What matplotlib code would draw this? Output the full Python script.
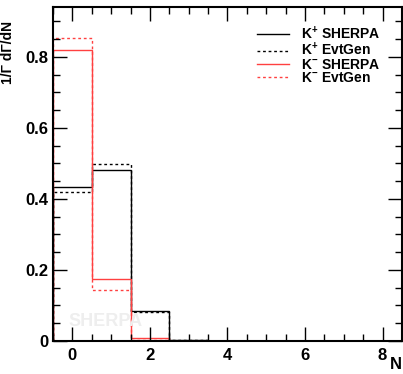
import numpy as np
import matplotlib
matplotlib.use("Agg")
import matplotlib.pyplot as plt
from matplotlib.ticker import MultipleLocator

plt.rcParams['font.family'] = ['Liberation Sans', 'DejaVu Sans']
plt.rcParams['font.weight'] = 'bold'
plt.rcParams['mathtext.fontset'] = 'custom'
plt.rcParams['mathtext.rm'] = 'Liberation Sans:bold'
plt.rcParams['mathtext.bf'] = 'Liberation Sans:bold'
plt.rcParams['mathtext.default'] = 'bf'

edges = np.arange(-0.5, 9.0, 1.0)
kp_sherpa = [0.433, 0.482, 0.0845, 0.003, 0.0, 0.0, 0.0, 0.0, 0.0]
kp_evtgen = [0.420, 0.497, 0.081, 0.002, 0.0, 0.0, 0.0, 0.0, 0.0]
km_sherpa = [0.820, 0.174, 0.009, 0.0, 0.0, 0.0, 0.0, 0.0, 0.0]
km_evtgen = [0.852, 0.144, 0.004, 0.0, 0.0, 0.0, 0.0, 0.0, 0.0]

fig = plt.figure(figsize=(4.03, 3.74), dpi=100)
ax = fig.add_axes([0.1315, 0.0882, 0.866, 0.893])

red = "#ff4040"
ax.stairs(kp_sherpa, edges, color="black", lw=1.0, label=r"K$^{+}$ SHERPA")
ax.stairs(kp_evtgen, edges, color="black", lw=1.0, ls=(0, (2, 2)), label=r"K$^{+}$ EvtGen")
ax.stairs(km_sherpa, edges, color=red, lw=1.0, label=r"K$^{-}$ SHERPA")
ax.stairs(km_evtgen, edges, color=red, lw=1.0, ls=(0, (2, 2)), label=r"K$^{-}$ EvtGen")

# faint generator watermark
ax.text(0.85, 0.054, "SHERPA", color="#eeeeee", fontsize=13, fontweight="bold",
        ha="center", va="center")

ax.set_xlim(-0.5, 8.5)
ax.set_ylim(0, 0.94)
ax.xaxis.set_major_locator(MultipleLocator(2))
ax.xaxis.set_minor_locator(MultipleLocator(0.5))
ax.yaxis.set_minor_locator(MultipleLocator(0.05))
ax.set_yticks([0, 0.2, 0.4, 0.6, 0.8])
ax.set_yticklabels(["0", "0.2", "0.4", "0.6", "0.8"])
ax.tick_params(which="both", direction="in", top=True, right=True, labelsize=12, width=1)
ax.tick_params(which="major", length=10)
ax.tick_params(which="minor", length=5)
ax.tick_params(axis="x", pad=5)
for s in ax.spines.values():
    s.set_linewidth(1.5)

ax.set_ylabel("1/Γ dΓ/dN", fontsize=10, fontweight="bold")
ax.yaxis.set_label_coords(-0.11, 0.865)
fig.text(0.997, 0.005, "N", fontsize=12, fontweight="bold", ha="right", va="bottom")

leg = ax.legend(loc="upper right", bbox_to_anchor=(0.975, 0.985), frameon=False,
                fontsize=10, handlelength=2.3, labelspacing=-0.05, handletextpad=0.9)

fig.savefig("out.png", dpi=100)
